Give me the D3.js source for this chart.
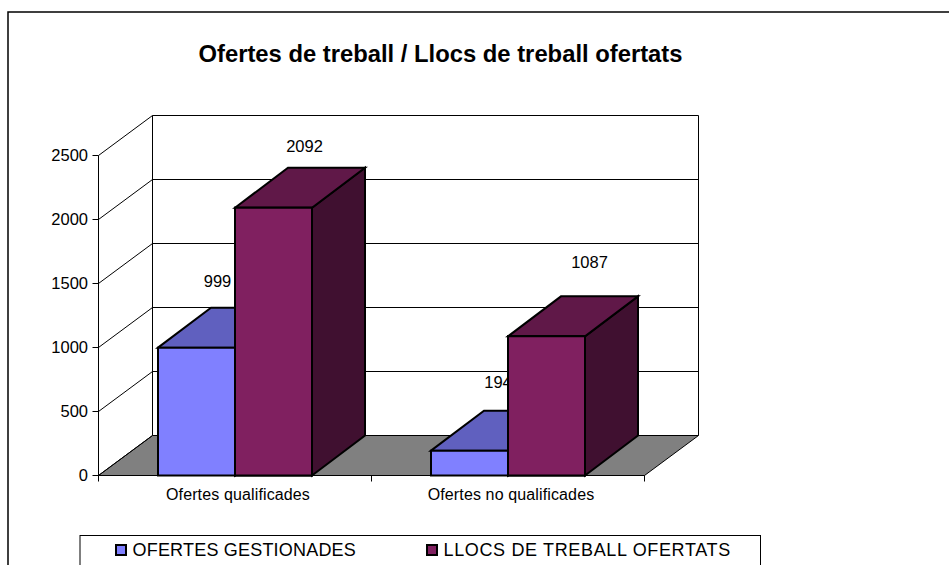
<!DOCTYPE html>
<html><head><meta charset="utf-8">
<script src="https://cdn.jsdelivr.net/npm/d3@7/dist/d3.min.js"></script>
<style>html,body{margin:0;padding:0;background:#fff;overflow:hidden}svg{display:block}text{font-family:"Liberation Sans",Arial,sans-serif;fill:#000}</style>
</head><body><svg id="c" width="949" height="565"></svg>
<script>
const categories = ["Ofertes qualificades", "Ofertes no qualificades"];
const seriesNames = ["OFERTES GESTIONADES", "LLOCS DE TREBALL OFERTATS"];
const gestionades = [999, 194];
const llocs = [2092, 1087];
const yTicks = [0, 500, 1000, 1500, 2000, 2500];
const title = "Ofertes de treball / Llocs de treball ofertats";

const svg = d3.select("#c");
const dx = 54, dy = -40, barDx = 53;
const x = d3.scaleBand().domain(categories).range([98, 644]);
const y = d3.scaleLinear().domain([0, 2500]).range([475, 155]);
const inner = d3.scaleBand().domain(seriesNames).range([60, 214]);
const poly = (g, pts, fill, stroke, w) => g.append("polygon").attr("points", pts.map(p => p.join(",")).join(" "))
  .attr("fill", fill).attr("stroke", stroke).attr("stroke-width", w).attr("stroke-linejoin", "miter");

svg.append("rect").attr("x", 8).attr("y", 12).attr("width", 960).attr("height", 580).attr("fill", "#fff").attr("stroke", "#000").attr("stroke-width", 1.5);
svg.append("text").attr("x", 440.5).attr("y", 62).attr("text-anchor", "middle").attr("font-size", 23.8).attr("font-weight", "bold").text(title);

const x0 = x.range()[0], x1 = x.range()[1];
const g = svg.append("g").attr("transform", "translate(0.5,0.5)");
poly(g, [[x0, y(0)], [x0 + dx, y(0) + dy], [x1 + dx, y(0) + dy], [x1, y(0)]], "#808080", "#000", 1);
yTicks.slice(1).forEach(t => {
  g.append("line").attr("x1", x0 + dx).attr("x2", x1 + dx).attr("y1", y(t) + dy).attr("y2", y(t) + dy).attr("stroke", "#000");
});
yTicks.forEach(t => {
  g.append("line").attr("x1", x0).attr("y1", y(t)).attr("x2", x0 + dx).attr("y2", y(t) + dy).attr("stroke", "#000");
  g.append("line").attr("x1", x0 - 6).attr("x2", x0).attr("y1", y(t)).attr("y2", y(t)).attr("stroke", "#000");
  g.append("text").attr("x", x0 - 10.5).attr("y", y(t) + 5.5).attr("text-anchor", "end").attr("font-size", 16.5).text(t);
});
g.append("line").attr("x1", x0).attr("x2", x0).attr("y1", y(2500)).attr("y2", y(0)).attr("stroke", "#000");
g.append("line").attr("x1", x0 + dx).attr("x2", x0 + dx).attr("y1", y(2500) + dy).attr("y2", y(0) + dy).attr("stroke", "#000");
g.append("line").attr("x1", x1 + dx).attr("x2", x1 + dx).attr("y1", y(2500) + dy).attr("y2", y(0) + dy).attr("stroke", "#000");
g.append("line").attr("x1", x0).attr("x2", x1).attr("y1", y(0)).attr("y2", y(0)).attr("stroke", "#000");
[...categories.map(c => x(c)), x1].forEach(v => g.append("line").attr("x1", v).attr("x2", v).attr("y1", y(0)).attr("y2", y(0) + 6).attr("stroke", "#000"));

const styles = [["#8080ff", "#6060bf", "#404080"], ["#802060", "#601848", "#401030"]];
const values = [gestionades, llocs];
// label nudges relative to each bar's top-front centre: [category][series]
const nudge = [[[21, -61], [31, -56]], [[28.5, -63], [43, -68]]];
categories.forEach((c, ci) => {
  seriesNames.forEach((s, si) => {
    const l = x(c) + inner(s), r = l + inner.bandwidth(), v = y(values[si][ci]) + 0.5, b = y(0) + 0.5;
    const bar = svg.append("g");
    poly(bar, [[r, b], [r + barDx, b + dy], [r + barDx, v + dy], [r, v]], styles[si][2], "#000", 2);
    poly(bar, [[l, v], [l + barDx, v + dy], [r + barDx, v + dy], [r, v]], styles[si][1], "#000", 2);
    poly(bar, [[l, v], [r, v], [r, b], [l, b]], styles[si][0], "#000", 2);
  });
});
// labels of the first series sit behind the second series' bar, so redraw that bar's front over them
categories.forEach((c, ci) => {
  seriesNames.forEach((s, si) => {
    const l = x(c) + inner(s), v = y(values[si][ci]) + 0.5;
    svg.append("text").attr("x", l + inner.bandwidth() / 2 + nudge[ci][si][0]).attr("y", v + nudge[ci][si][1])
      .attr("text-anchor", "middle").attr("font-size", 16.5).text(values[si][ci]);
  });
  const s = seriesNames[1], l = x(c) + inner(s), r = l + inner.bandwidth(), v = y(values[1][ci]) + 0.5, b = y(0) + 0.5;
  poly(svg, [[l, v], [r, v], [r, b], [l, b]], styles[1][0], "#000", 2);
});
categories.forEach(c => {
  svg.append("text").attr("x", x(c) + x.bandwidth() / 2 + 3.5).attr("y", 500).attr("text-anchor", "middle")
    .attr("font-size", 16).attr("letter-spacing", 0.13).text(c);
});
svg.append("rect").attr("x", 80).attr("y", 535.5).attr("width", 680.5).attr("height", 60).attr("fill", "#fff").attr("stroke", "#000");
const legendX = [116, 427];
const legendSpacing = [0.2, 0.65];
seriesNames.forEach((s, i) => {
  svg.append("rect").attr("x", legendX[i]).attr("y", 545).attr("width", 10).attr("height", 10).attr("fill", styles[i][0]).attr("stroke", "#000").attr("stroke-width", 2);
  svg.append("text").attr("x", legendX[i] + 16.5).attr("y", 556).attr("font-size", 18).attr("letter-spacing", legendSpacing[i]).text(s);
});
</script></body></html>
